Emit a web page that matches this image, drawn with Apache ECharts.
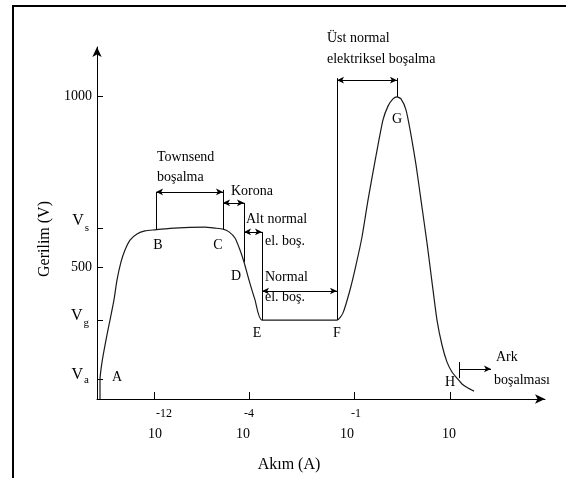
<!DOCTYPE html>
<html>
<head>
<meta charset="utf-8">
<script src="https://cdn.jsdelivr.net/npm/echarts@6/dist/echarts.min.js"></script>
<style>
html,body{margin:0;padding:0;background:#fff;}
#c{width:566px;height:478px;}
</style>
</head>
<body>
<div id="c"></div>
<script>
// ---- Data (schematic current position units 0..100, voltage in V) ----
const curveX = [0.67,0.67,1.12,2.01,2.90,3.79,4.46,5.36,6.25,7.37,8.93,10.71,12.95,16.29,20.76,24.11,26.34,28.13,29.46,30.80,31.92,32.81,33.93,35.27,36.83,53.57,54.91,56.47,57.81,59.15,60.49,61.61,62.72,63.84,64.96,66.07,66.96,67.86,68.97,70.09,71.21,72.32,73.66,74.78,75.89,77.01,78.13,79.24,80.36,81.47,82.81,84.15];
const curveV = [115,171,223,288,346,405,463,516,551,580,598,607,610,614,617,618,615,612,604,586,551,516,463,405,346,346,367,434,507,589,697,779,858,932,972,993,999,993,961,888,800,697,572,457,346,273,223,194,176,159,147,138];

const yTickValues = [172, 345, 500, 614, 1000];
const yTickLabels = ['Va', 'Vg', '500', 'Vs', '1000'];
const xTickPos = [12.83, 33.93, 57.48, 78.79];
const xLabelPos = [12.95, 32.59, 55.80, 78.57];
const xExponents = ['-12', '-4', '-1', ''];

// region brackets: [x1, v1, x2, v2, startArrow, endArrow]
const bracketLines = [
  [13.17, 610, 13.17, 721, 0, 0],
  [28.13, 612, 28.13, 727, 0, 0],
  [13.17, 721, 28.13, 721, 1, 1],
  [32.81, 516, 32.81, 689, 0, 0],
  [28.13, 689, 32.81, 689, 1, 1],
  [36.83, 346, 36.83, 604, 0, 0],
  [32.81, 604, 36.83, 604, 1, 1],
  [36.83, 431, 53.57, 431, 1, 1],
  [53.57, 346, 53.57, 1054, 0, 0],
  [66.96, 999, 66.96, 1054, 0, 0],
  [53.57, 1048, 66.96, 1048, 1, 1],
  [80.80, 223, 80.80, 176, 0, 0],
  [80.80, 203, 87.95, 203, 0, 1]
];

const FONT = '"Liberation Serif", "Times New Roman", serif';

const chart = echarts.init(document.getElementById('c'), null, {renderer: 'canvas'});

const markData = bracketLines.map(b => [
  {coord: [b[0], b[1]], symbol: b[4] ? 'arrow' : 'none'},
  {coord: [b[2], b[3]], symbol: b[5] ? 'arrow' : 'none'}
]);

function txt(t, x, y, opts) {
  return Object.assign({
    type: 'text', x: x, y: y, silent: true,
    style: Object.assign({text: t, font: '14px ' + FONT, fill: '#000', textAlign: 'left', textVerticalAlign: 'middle'}, (opts && opts.style) || {})
  }, (opts && opts.el) || {});
}

const option = {
  animation: false,
  backgroundColor: '#fff',
  grid: {left: 97, right: 21, top: 47, bottom: 79},
  xAxis: {
    type: 'value', min: 0, max: 100,
    splitLine: {show: false},
    axisLine: {show: true, onZero: false, symbol: ['none', 'arrow'], symbolSize: [7, 10], lineStyle: {color: '#000', width: 1}},
    axisTick: {show: true, inside: true, length: 7, customValues: xTickPos, lineStyle: {color: '#000'}},
    axisLabel: {
      show: true, margin: 8, customValues: xLabelPos,
      formatter: function (v) {
        const i = xLabelPos.indexOf(v);
        const e = xExponents[i];
        const pad = e === '-4' ? 'e2' : 'e1';
        return (e ? '{' + pad + '|' + e + '}' : '{e1| }') + '\n{b|10}';
      },
      rich: {
        e1: {fontFamily: FONT, fontSize: 12, color: '#000', padding: [0, 0, 0, 18], lineHeight: 14},
        e2: {fontFamily: FONT, fontSize: 12, color: '#000', padding: [0, 0, 0, 12], lineHeight: 14},
        b: {fontFamily: FONT, fontSize: 14, color: '#000', lineHeight: 26}
      }
    }
  },
  yAxis: {
    type: 'value', min: 115, max: 1145,
    splitLine: {show: false},
    axisLine: {show: true, onZero: false, symbol: ['none', 'arrow'], symbolSize: [7, 10], lineStyle: {color: '#000', width: 1}},
    axisTick: {show: true, inside: true, length: 6, customValues: yTickValues, lineStyle: {color: '#000'}},
    axisLabel: {
      show: true, margin: 5, customValues: yTickValues,
      formatter: function (v) {
        const i = yTickValues.indexOf(v);
        const l = yTickLabels[i];
        if (l.charAt(0) === 'V') {
          const k = l === 'Vs' ? '1' : (l === 'Vg' ? '2' : '3');
          return '{v' + k + '|V}{s' + k + '|' + l.charAt(1) + '}';
        }
        return '{n|' + l + '}';
      },
      rich: {
        n: {fontFamily: FONT, fontSize: 14, color: '#000'},
        v1: {fontFamily: FONT, fontSize: 16, color: '#000', verticalAlign: 'top', lineHeight: 32},
        v2: {fontFamily: FONT, fontSize: 16, color: '#000', verticalAlign: 'top', lineHeight: 26},
        v3: {fontFamily: FONT, fontSize: 16, color: '#000', verticalAlign: 'top', lineHeight: 26},
        s1: {fontFamily: FONT, fontSize: 11, color: '#000', verticalAlign: 'top', lineHeight: 11, padding: [10, 3, 0, 1]},
        s2: {fontFamily: FONT, fontSize: 11, color: '#000', verticalAlign: 'top', lineHeight: 11, padding: [10, 3, 0, 1]},
        s3: {fontFamily: FONT, fontSize: 11, color: '#000', verticalAlign: 'top', lineHeight: 11, padding: [8, 3, 0, 1]}
      }
    }
  },
  series: [
    {
      type: 'line',
      data: curveX.map((x, i) => [x, curveV[i]]),
      showSymbol: false,
      smooth: 0.2,
      lineStyle: {color: '#1a1a1a', width: 1.2},
      silent: true,
      markLine: {
        silent: true,
        symbolSize: [5, 7],
        label: {show: false},
        lineStyle: {color: '#000', width: 1, type: 'solid'},
        emphasis: {disabled: true},
        data: markData
      }
    }
  ],
  graphic: [
    {type: 'line', shape: {x1: 13, y1: 6, x2: 566, y2: 6}, style: {stroke: '#000', lineWidth: 2}, silent: true},
    {type: 'line', shape: {x1: 13, y1: 5, x2: 13, y2: 478}, style: {stroke: '#000', lineWidth: 2}, silent: true},
    txt('Townsend', 157, 157),
    txt('boşalma', 157, 177),
    txt('Korona', 231, 191),
    txt('Alt normal', 246, 219),
    txt('el. boş.', 265, 241),
    txt('Normal', 265, 277),
    txt('el. boş.', 265, 297),
    txt('Üst normal', 327, 38),
    txt('elektriksel boşalma', 327, 59),
    txt('Ark', 496, 357),
    txt('boşalması', 494, 380),
    txt('A', 117, 377, {style: {textAlign: 'center'}}),
    txt('B', 158, 245, {style: {textAlign: 'center'}}),
    txt('C', 218, 245, {style: {textAlign: 'center'}}),
    txt('D', 236, 276, {style: {textAlign: 'center'}}),
    txt('E', 257, 333, {style: {textAlign: 'center'}}),
    txt('F', 337, 333, {style: {textAlign: 'center'}}),
    txt('G', 397, 119, {style: {textAlign: 'center'}}),
    txt('H', 450, 382, {style: {textAlign: 'center'}}),
    txt('Akım (A)', 289, 465, {style: {textAlign: 'center', font: '16px ' + FONT}}),
    {
      type: 'text', x: 45, y: 239, rotation: Math.PI / 2, silent: true,
      style: {text: 'Gerilim (V)', x: 0, y: 0, font: '16px ' + FONT, fill: '#000', textAlign: 'center', textVerticalAlign: 'middle'}
    }
  ]
};
chart.setOption(option);
</script>
</body>
</html>
